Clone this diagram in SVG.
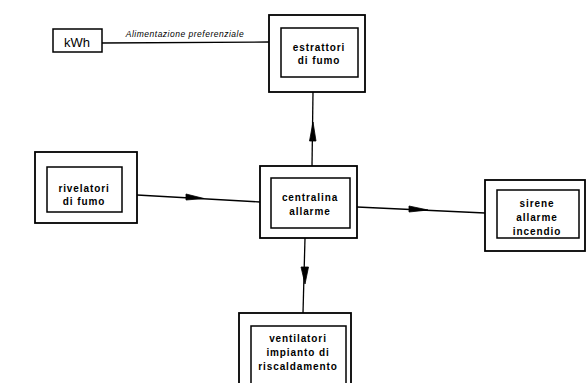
<svg xmlns="http://www.w3.org/2000/svg" width="588" height="383" viewBox="0 0 588 383">
<style>
.o{fill:none;stroke:#000;stroke-width:1.8}
.i{fill:none;stroke:#000;stroke-width:1.5}
.t{font-family:"Liberation Sans",Arial,sans-serif;font-size:10px;font-weight:bold;text-anchor:middle;fill:#000;letter-spacing:0.9px}
.c{fill:none;stroke:#000;stroke-width:1.3}
.a{fill:#000;stroke:#000;stroke-width:0.8}
</style>
<rect width="588" height="383" fill="#fff"/>
<g id="kwh">
<rect class="i" x="53" y="29" width="49" height="23"/>
<text x="77" y="47" style="font-family:'Liberation Sans',Arial,sans-serif;font-size:13px;text-anchor:middle">kWh</text>
</g>
<g id="estrattori">
<rect class="o" x="269" y="15" width="96" height="77"/>
<rect class="i" x="281" y="28" width="77" height="49"/>
<text class="t" x="319" y="51">estrattori</text>
<text class="t" x="319" y="64">di fumo</text>
</g>
<g id="rivelatori">
<rect class="o" x="35" y="152" width="102" height="71"/>
<rect class="i" x="47" y="167" width="75" height="45"/>
<text class="t" x="84" y="192">rivelatori</text>
<text class="t" x="84" y="205">di fumo</text>
</g>
<g id="centralina">
<rect class="o" x="260" y="166" width="97" height="72"/>
<rect class="i" x="271" y="178" width="79" height="50"/>
<text class="t" x="310" y="201">centralina</text>
<text class="t" x="310" y="215">allarme</text>
</g>
<g id="sirene">
<rect class="o" x="485" y="180" width="100" height="71"/>
<rect class="i" x="497" y="190" width="82" height="48"/>
<text class="t" x="537" y="207">sirene</text>
<text class="t" x="537" y="221">allarme</text>
<text class="t" x="537" y="235">incendio</text>
</g>
<g id="ventilatori">
<rect class="o" x="239" y="313" width="112" height="75"/>
<rect class="i" x="251" y="326" width="95" height="60"/>
<text class="t" x="298" y="342">ventilatori</text>
<text class="t" x="298" y="356">impianto di</text>
<text class="t" x="298" y="370">riscaldamento</text>
</g>
<g id="connectors">
<line class="c" x1="102" y1="43" x2="269" y2="42"/>
<text x="185" y="37" style="font-family:'Liberation Sans',Arial,sans-serif;font-size:8.5px;font-style:italic;text-anchor:middle;letter-spacing:0.5px">Alimentazione preferenziale</text>
<line class="c" x1="313" y1="92" x2="312" y2="166"/>
<polygon class="a" points="313,122 309.5,141 316,141"/>
<line class="c" x1="137" y1="195" x2="260" y2="202"/>
<polygon class="a" points="204,198.5 186,194 186,200"/>
<line class="c" x1="357" y1="207" x2="485" y2="213"/>
<polygon class="a" points="428,210 409,206 409,212"/>
<line class="c" x1="305" y1="238" x2="303" y2="313"/>
<polygon class="a" points="305,284 301,267 308.5,267"/>
</g>
</svg>
